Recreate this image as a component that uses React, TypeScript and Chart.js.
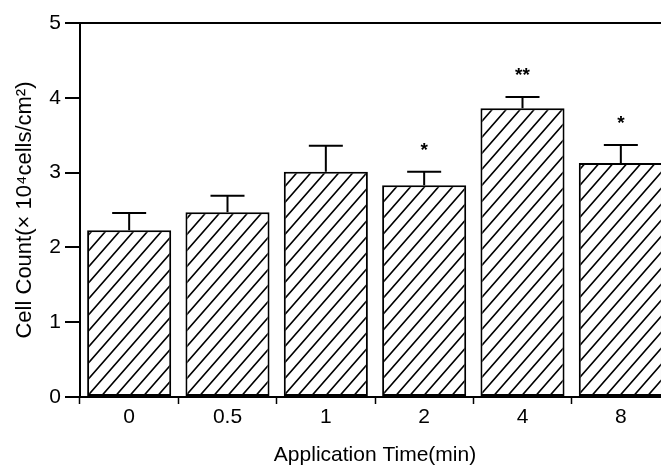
import React, { useEffect, useRef } from "react";
import { Chart, registerables } from "chart.js";

Chart.register(...registerables);

const categories = ["0", "0.5", "1", "2", "4", "8"];
const means = [2.23, 2.47, 3.01, 2.83, 3.86, 3.13];
const sds = [0.23, 0.22, 0.35, 0.18, 0.15, 0.24];
const significance = ["", "", "", "*", "**", "*"];
const yTicks = [0, 1, 2, 3, 4, 5];

const FONT = "'Liberation Sans', Arial, sans-serif";

function makeHatch(): CanvasPattern | string {
  const w = 14;
  const h = 16;
  const c = document.createElement("canvas");
  c.width = w;
  c.height = h;
  const g = c.getContext("2d");
  if (!g) return "#fff";
  g.fillStyle = "#fff";
  g.fillRect(0, 0, w, h);
  g.strokeStyle = "#000";
  g.lineWidth = 1.6;
  g.beginPath();
  g.moveTo(-w, 2 * h);
  g.lineTo(2 * w, -h);
  g.moveTo(-2 * w, 2 * h);
  g.lineTo(w, -h);
  g.moveTo(0, 2 * h);
  g.lineTo(3 * w, -h);
  g.stroke();
  const p = g.createPattern(c, "repeat");
  return p || "#fff";
}

const errorPlugin = {
  id: "errorBars",
  afterDatasetsDraw(chart: any) {
    const ctx = chart.ctx;
    const meta = chart.getDatasetMeta(0);
    const ys = chart.scales.y;
    ctx.save();
    ctx.strokeStyle = "#000";
    ctx.lineWidth = 2;
    ctx.fillStyle = "#000";
    ctx.font = "bold 19px 'Liberation Sans', sans-serif";
    ctx.textAlign = "center";
    ctx.textBaseline = "alphabetic";
    meta.data.forEach((bar: any, i: number) => {
      const x = bar.x;
      const top = ys.getPixelForValue(means[i]);
      const cap = ys.getPixelForValue(means[i] + sds[i]);
      ctx.beginPath();
      ctx.moveTo(x, top);
      ctx.lineTo(x, cap);
      ctx.moveTo(x - 17, cap);
      ctx.lineTo(x + 17, cap);
      ctx.stroke();
      if (significance[i]) {
        ctx.fillText(significance[i], x, cap - 16);
      }
    });
    ctx.restore();
  },
};

export default function App() {
  const ref = useRef<HTMLCanvasElement | null>(null);
  useEffect(() => {
    if (!ref.current) return;
    const hatch = makeHatch();
    const chart = new Chart(ref.current, {
      type: "bar",
      data: {
        labels: categories,
        datasets: [
          {
            data: means,
            backgroundColor: hatch as any,
            borderColor: "#000",
            borderWidth: 2,
            borderSkipped: false,
            barPercentage: 0.855,
            categoryPercentage: 1,
          },
        ],
      },
      options: {
        responsive: false,
        animation: false,
        devicePixelRatio: 1,
        layout: { padding: { top: 23, right: 2, bottom: 0, left: 0 } },
        plugins: {
          legend: { display: false },
          tooltip: { enabled: false },
        },
        scales: {
          x: {
            offset: true,
            grid: {
              offset: true,
              drawOnChartArea: false,
              tickLength: 7,
              tickColor: "#000",
              tickWidth: 1.5,
            },
            border: { display: true, color: "#000", width: 2 },
            ticks: {
              color: "#000",
              font: { family: FONT, size: 21 },
              padding: 1,
              maxRotation: 0,
            },
            title: {
              display: true,
              text: "Application Time(min)",
              color: "#000",
              font: { family: FONT, size: 21 },
              padding: { top: 0, bottom: 7 },
            },
            afterFit(scale: any) {
              scale.height = 78;
            },
          },
          y: {
            min: 0,
            max: 5,
            afterBuildTicks(scale: any) {
              scale.ticks = yTicks.map((v) => ({ value: v }));
            },
            grid: {
              drawOnChartArea: true,
              color: (c: any) => (c.tick && c.tick.value === 5 ? "#000" : "rgba(0,0,0,0)"),
              lineWidth: 2,
              tickLength: 15,
              tickColor: "#000",
              tickWidth: 2,
            },
            border: { display: true, color: "#000", width: 2 },
            ticks: {
              color: "#000",
              font: { family: FONT, size: 21 },
              padding: 4,
            },
            title: {
              display: true,
              text: "Cell Count(× 10⁴cells/cm²)",
              color: "#000",
              font: { family: FONT, size: 22 },
              padding: { top: 12, bottom: 0 },
            },
            afterFit(scale: any) {
              scale.width = 80;
            },
          },
          y2: {
            position: "left",
            min: 0,
            max: 5,
            ticks: { display: false, stepSize: 0.5 },
            grid: {
              drawOnChartArea: false,
              tickLength: 8,
              tickColor: "#000",
              tickWidth: 1.5,
            },
            border: { display: false },
            afterFit(scale: any) {
              scale.width = 0;
            },
          },
        },
      },
      plugins: [errorPlugin],
    } as any);
    return () => chart.destroy();
  }, []);
  return (
    <div
      style={{
        position: "absolute",
        left: 0,
        top: 0,
        width: 661,
        height: 475,
        overflow: "hidden",
        background: "#fff",
      }}
    >
      <canvas ref={ref} width={672} height={475} style={{ display: "block" }} />
    </div>
  );
}
